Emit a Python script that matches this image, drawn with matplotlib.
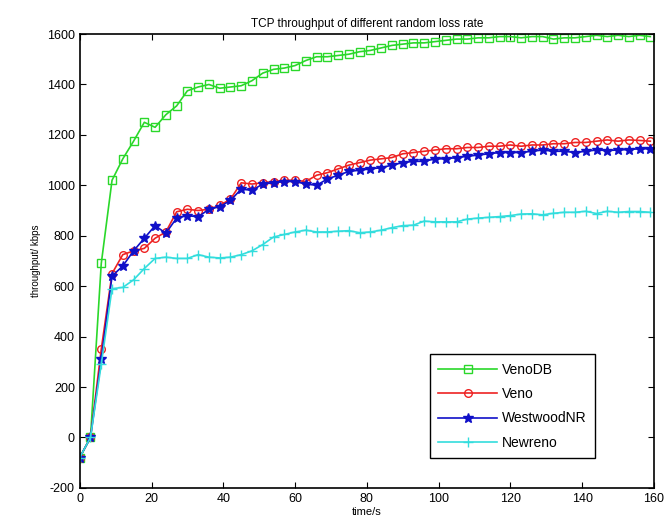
import matplotlib
matplotlib.use("Agg")
import matplotlib.pyplot as plt
import numpy as np

# sample times (s), one point every 3 s
time_s = np.arange(0, 162, 3)

venodb = [-80, 0, 690, 1020, 1105, 1175, 1250, 1230, 1280, 1315,
          1375, 1390, 1400, 1385, 1390, 1395, 1415, 1445, 1460, 1465,
          1475, 1495, 1510, 1510, 1515, 1520, 1530, 1535, 1545, 1555,
          1560, 1565, 1565, 1570, 1575, 1580, 1580, 1585, 1585, 1590,
          1590, 1585, 1590, 1590, 1580, 1585, 1585, 1590, 1595, 1590,
          1595, 1590, 1595, 1590]
veno = [-80, 0, 350, 650, 725, 740, 750, 790, 815, 895,
        905, 900, 905, 920, 945, 1010, 1005, 1010, 1015, 1020,
        1020, 1015, 1040, 1050, 1065, 1080, 1090, 1100, 1105, 1110,
        1125, 1130, 1135, 1140, 1145, 1145, 1150, 1150, 1155, 1155,
        1160, 1155, 1160, 1160, 1165, 1165, 1170, 1170, 1175, 1180,
        1175, 1180, 1178, 1175]
westwood = [-80, 0, 310, 640, 680, 740, 790, 840, 810, 870,
            880, 875, 905, 915, 940, 985, 980, 1005, 1010, 1015,
            1015, 1005, 1000, 1025, 1040, 1055, 1060, 1065, 1070, 1080,
            1090, 1095, 1095, 1105, 1105, 1110, 1115, 1120, 1125, 1130,
            1130, 1130, 1135, 1140, 1135, 1135, 1130, 1135, 1140, 1138,
            1140, 1142, 1145, 1145]
newreno = [-80, 0, 290, 590, 595, 625, 670, 710, 715, 710,
           710, 725, 715, 712, 715, 725, 740, 765, 795, 805,
           815, 822, 815, 815, 818, 820, 812, 815, 822, 832,
           840, 842, 858, 855, 855, 855, 866, 870, 873, 876,
           880, 886, 887, 883, 889, 893, 893, 897, 888, 897,
           893, 896, 896, 893]

plt.rcParams['font.family'] = ['Liberation Sans', 'DejaVu Sans']
plt.rcParams['axes.unicode_minus'] = False

fig = plt.figure(figsize=(6.7, 5.32), dpi=100)
ax = fig.add_axes([0.119, 0.083, 0.857, 0.853])

ax.plot(time_s, venodb, '-s', color='#2ad82a', mfc='none', ms=5.5, lw=1.2, label='VenoDB')
ax.plot(time_s, veno, '-o', color='#ee2222', mfc='none', ms=5.5, lw=1.2, label='Veno')
ax.plot(time_s, westwood, '-*', color='#1010c8', ms=7.5, lw=1.2, label='WestwoodNR')
ax.plot(time_s, newreno, '-+', color='#33dddd', ms=7, lw=1.2, label='Newreno')

ax.set_xlim(0, 160)
ax.set_ylim(-200, 1600)
ax.set_xticks(np.arange(0, 161, 20))
ax.set_yticks(np.arange(-200, 1601, 200))
ax.tick_params(direction='in', top=True, right=True, labelsize=9, length=4)
for s in ax.spines.values():
    s.set_linewidth(1.2)

ax.set_title('TCP throughput of different random loss rate', fontsize=8.5, pad=5)
ax.set_xlabel('time/s', fontsize=8, labelpad=2)
ax.set_ylabel('throughput/ kbps', fontsize=7, labelpad=4)

leg = ax.legend(loc='lower right', bbox_to_anchor=(0.91, 0.05), fontsize=10,
                fancybox=False, edgecolor='black', framealpha=1,
                handlelength=4.2, handletextpad=0.4, borderpad=0.6, labelspacing=0.75)
leg.get_frame().set_linewidth(1.0)

fig.savefig('out.png', dpi=100)
